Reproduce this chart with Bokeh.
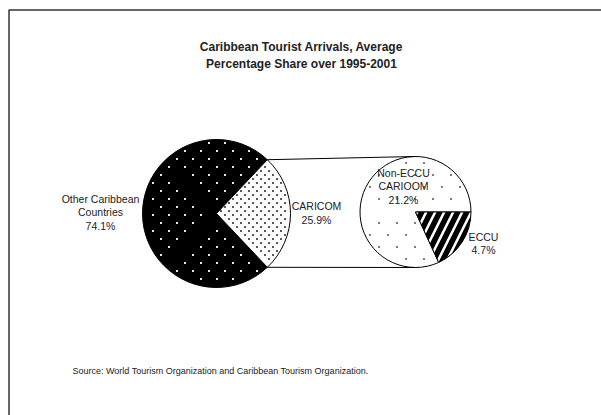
import numpy as np
from bokeh.plotting import figure
from bokeh.models import Range1d
from bokeh.core.properties import value
from bokeh.embed import file_html
from bokeh.resources import INLINE

# ---- data ----
title_lines = ["Caribbean Tourist Arrivals, Average", "Percentage Share over 1995-2001"]
main_labels = ["Other Caribbean\nCountries", "CARICOM"]
main_shares = [74.1, 25.9]
sub_labels = ["Non-ECCU\nCARIOOM", "ECCU"]
sub_shares = [21.2, 4.7]
source_note = "Source: World Tourism Organization and Caribbean Tourism Organization."

W, H = 601, 415
FONT = "Liberation Sans"

def Y(py):
    return H - py

p = figure(width=W, height=H, x_range=Range1d(0, W), y_range=Range1d(0, H),
           x_axis_type=None, y_axis_type=None, toolbar_location=None,
           output_backend="svg", min_border=0)
p.grid.visible = False
p.outline_line_color = None
p.background_fill_color = "white"
p.border_fill_color = "white"


def texture_dots(cx, cy, r, a0, a1, dx, dy, margin=2.5):
    """Staggered dot-texture positions inside a wedge (pattern fill)."""
    span = a1 - a0
    xs_all, ys_all = [], []
    row0 = int(np.floor((cy - r) / dy)) - 1
    row1 = int(np.ceil((cy + r) / dy)) + 1
    for i in range(row0, row1 + 1):
        y = i * dy + 0.5
        off = (dx / 2) * (i % 2)
        xs = np.arange(np.floor((cx - r) / dx) * dx - dx + off, cx + r + dx, dx) + 0.5
        d = np.hypot(xs - cx, y - cy)
        th = np.arctan2(y - cy, xs - cx)
        ang = np.mod(th - a0, 2 * np.pi)
        e0 = np.abs(np.sin(th - a0)) * d
        e1 = np.abs(np.sin(th - a1)) * d
        keep = (d <= r - margin) & (ang <= span) & (e0 > margin) & (e1 > margin)
        xs_all.extend(xs[keep])
        ys_all.extend([y] * int(keep.sum()))
    return xs_all, ys_all


# frame
p.quad(left=[8.5], right=[W + 20], top=[Y(9.5)], bottom=[-20],
       fill_color=None, line_color="#333333", line_width=1.5)

# ---- main pie ----
c1x, c1y, r1 = 216, Y(213), 74
car_frac = main_shares[1] / sum(main_shares)
car_half = car_frac * np.pi
p.wedge(x=[c1x], y=[c1y], radius=r1, start_angle=[car_half], end_angle=[2 * np.pi - car_half],
        fill_color="black", line_color="black", line_width=1)
p.wedge(x=[c1x], y=[c1y], radius=r1, start_angle=[-car_half], end_angle=[car_half],
        fill_color="white", line_color="black", line_width=1)
ox, oy = texture_dots(c1x, c1y, r1, car_half, 2 * np.pi - car_half, 16, 8)
p.rect(x=ox, y=oy, width=2, height=2, fill_color="#e6e6e6", line_color=None)
cx_, cy_ = texture_dots(c1x, c1y, r1, -car_half, car_half, 8, 4, margin=1.5)
p.rect(x=cx_, y=cy_, width=2, height=2, fill_color="#5a5a5a", line_color=None)

# ---- sub pie ----
c2x, c2y, r2 = 415, Y(211.5), 55.5
eccu_frac = sub_shares[1] / sum(sub_shares)
eccu_ang = eccu_frac * 2 * np.pi
p.wedge(x=[c2x], y=[c2y], radius=r2, start_angle=[0], end_angle=[2 * np.pi - eccu_ang],
        fill_color="white", line_color="black", line_width=1)
nx, ny = texture_dots(c2x, c2y, r2, 0, 2 * np.pi - eccu_ang, 18, 12)
p.rect(x=nx, y=ny, width=1.6, height=1.6, fill_color="#222222", line_color=None)
p.wedge(x=[c2x], y=[c2y], radius=r2, start_angle=[-eccu_ang], end_angle=[0],
        fill_color="white", line_color="black", line_width=1,
        hatch_pattern="right_diagonal_line", hatch_color="black", hatch_scale=18, hatch_weight=5.5)

# connector lines
tx, ty = c1x + r1 * np.cos(car_half), c1y + r1 * np.sin(car_half)
bx, by = c1x + r1 * np.cos(-car_half), c1y + r1 * np.sin(-car_half)
p.segment(x0=[tx, bx], y0=[ty, by], x1=[c2x, c2x], y1=[c2y + r2, c2y - r2],
          line_color="black", line_width=1)

# ---- labels ----
def lab(x, y, t, size="10.5px", bold=False):
    p.text(x=[x], y=[y], text=[t], text_font=value(FONT), text_font_size=size,
           text_align="center", text_baseline="middle", text_color="#222222",
           text_font_style="bold" if bold else "normal", text_line_height=1.15)

lab(100, Y(212), f"{main_labels[0]}\n{main_shares[0]}%")
lab(316, Y(212.5), f"{main_labels[1]}\n{main_shares[1]}%")
lab(403, Y(186), f"{sub_labels[0]}\n{sub_shares[0]}%")
lab(483, Y(243), f"{sub_labels[1]}\n{sub_shares[1]}%")

lab(301, Y(46.5), title_lines[0], size="12px", bold=True)
lab(301, Y(63), title_lines[1], size="12px", bold=True)

p.text(x=[72], y=[Y(370)], text=[source_note], text_font=value(FONT), text_font_size="9px",
       text_align="left", text_baseline="middle", text_color="#222222")

open("out.html", "w").write(file_html(p, INLINE))
